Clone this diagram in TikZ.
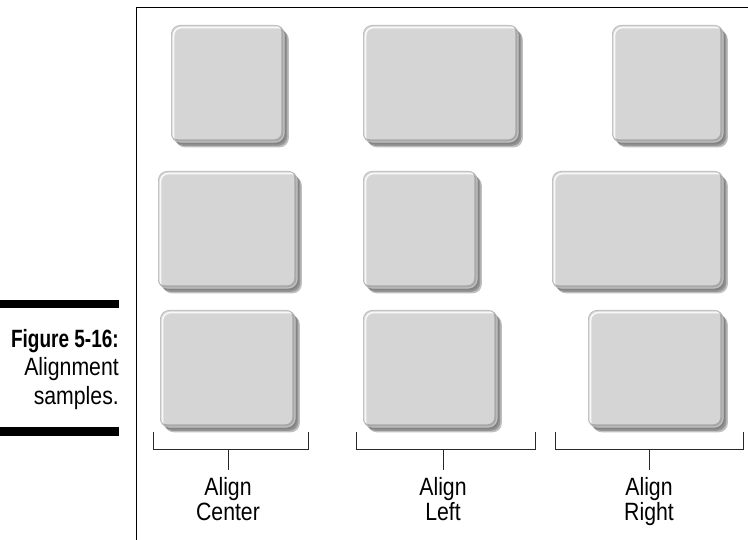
\documentclass[tikz,border=0pt]{standalone}
\usepackage{fontspec}
\setmainfont{Liberation Sans}[FakeStretch=0.85, BoldFeatures={FakeStretch=0.76}]
\definecolor{boxface}{HTML}{D5D5D5}
\definecolor{boxrim}{HTML}{B4B4B4}
\definecolor{lineink}{HTML}{2A2A2A}
\tikzset{
  btn/.style={rounded corners=9pt, fill=boxface, draw=boxrim, line width=0.6pt, inner sep=0pt, anchor=north west,
    preaction={fill=black, opacity=0.12, transform canvas={shift={(1.5pt,-2pt)}}},
    preaction={fill=black, opacity=0.22, transform canvas={shift={(3pt,-3.5pt)}}},
    preaction={fill=black, opacity=0.25, transform canvas={shift={(4.5pt,-5pt)}}},
    path picture={
      \draw[white, line width=1.6pt, opacity=0.85, rounded corners=8pt]
        ([shift={(2.2pt,-2.2pt)}]path picture bounding box.north west) rectangle
        ([shift={(2.2pt,-2.2pt)}]path picture bounding box.south east);
      \draw[black!55, line width=2.4pt, opacity=0.45, rounded corners=8pt]
        ([shift={(-1.8pt,1.8pt)}]path picture bounding box.north west) rectangle
        ([shift={(-1.8pt,1.8pt)}]path picture bounding box.south east);
    }},
  frameline/.style={draw=black, line width=0.9pt},
  bracket/.style={draw=lineink, line width=1pt},
  bar/.style={fill=black},
  lbl/.style={font=\fontsize{25}{25.5}\selectfont, align=center, anchor=north, inner sep=0pt},
  caption/.style={font=\fontsize{25}{28.5}\selectfont, align=right, anchor=north east, inner sep=0pt}
}
\begin{document}
\begin{tikzpicture}[x=1pt,y=-1pt]
\useasboundingbox (0,0) rectangle (748,540);
% frame
\coordinate (fbot) at (136,540);
\coordinate (fcorner) at (136,7);
\coordinate (fright) at (748,7);
\draw[frameline] (fbot) -- (fcorner) -- (fright);
% caption bars
\path[bar] (0,300) rectangle (119,308.5);
\path[bar] (0,427.5) rectangle (119,436);
\node[caption] (cap) at (119,329) {\textbf{Figure 5-16:}\\Alignment\\samples.};
% row 1
\node[btn, minimum width=113pt, minimum height=117pt] (b1) at (171,25) {};
\node[btn, minimum width=155pt, minimum height=117pt] (b2) at (363,25) {};
\node[btn, minimum width=111pt, minimum height=117pt] (b3) at (612,25) {};
% row 2
\node[btn, minimum width=139pt, minimum height=117pt] (b4) at (158,171) {};
\node[btn, minimum width=114pt, minimum height=117pt] (b5) at (363,171) {};
\node[btn, minimum width=171pt, minimum height=117pt] (b6) at (552,171) {};
% row 3
\node[btn, minimum width=135pt, minimum height=117pt] (b7) at (160,310) {};
\node[btn, minimum width=134pt, minimum height=117pt] (b8) at (363,310) {};
\node[btn, minimum width=135pt, minimum height=117pt] (b9) at (588,310) {};
% brackets
\coordinate (k1a) at (153,432); \coordinate (k1b) at (153,449);
\coordinate (k1c) at (308,449); \coordinate (k1d) at (308,432);
\coordinate (s1a) at (228,449); \coordinate (s1b) at (228,470);
\coordinate (k2a) at (356,432); \coordinate (k2b) at (356,449);
\coordinate (k2c) at (535,449); \coordinate (k2d) at (535,432);
\coordinate (s2a) at (443,449); \coordinate (s2b) at (443,470);
\coordinate (k3a) at (555,432); \coordinate (k3b) at (555,449);
\coordinate (k3c) at (743,449); \coordinate (k3d) at (743,432);
\coordinate (s3a) at (649,449); \coordinate (s3b) at (649,470);
\draw[bracket] (k1a) -- (k1b) -- (k1c) -- (k1d);
\draw[bracket] (s1a) -- (s1b);
\draw[bracket] (k2a) -- (k2b) -- (k2c) -- (k2d);
\draw[bracket] (s2a) -- (s2b);
\draw[bracket] (k3a) -- (k3b) -- (k3c) -- (k3d);
\draw[bracket] (s3a) -- (s3b);
\node[lbl] (l1) at (228,477) {Align\\Center};
\node[lbl] (l2) at (443,477) {Align\\Left};
\node[lbl] (l3) at (649,477) {Align\\Right};
\end{tikzpicture}
\end{document}
